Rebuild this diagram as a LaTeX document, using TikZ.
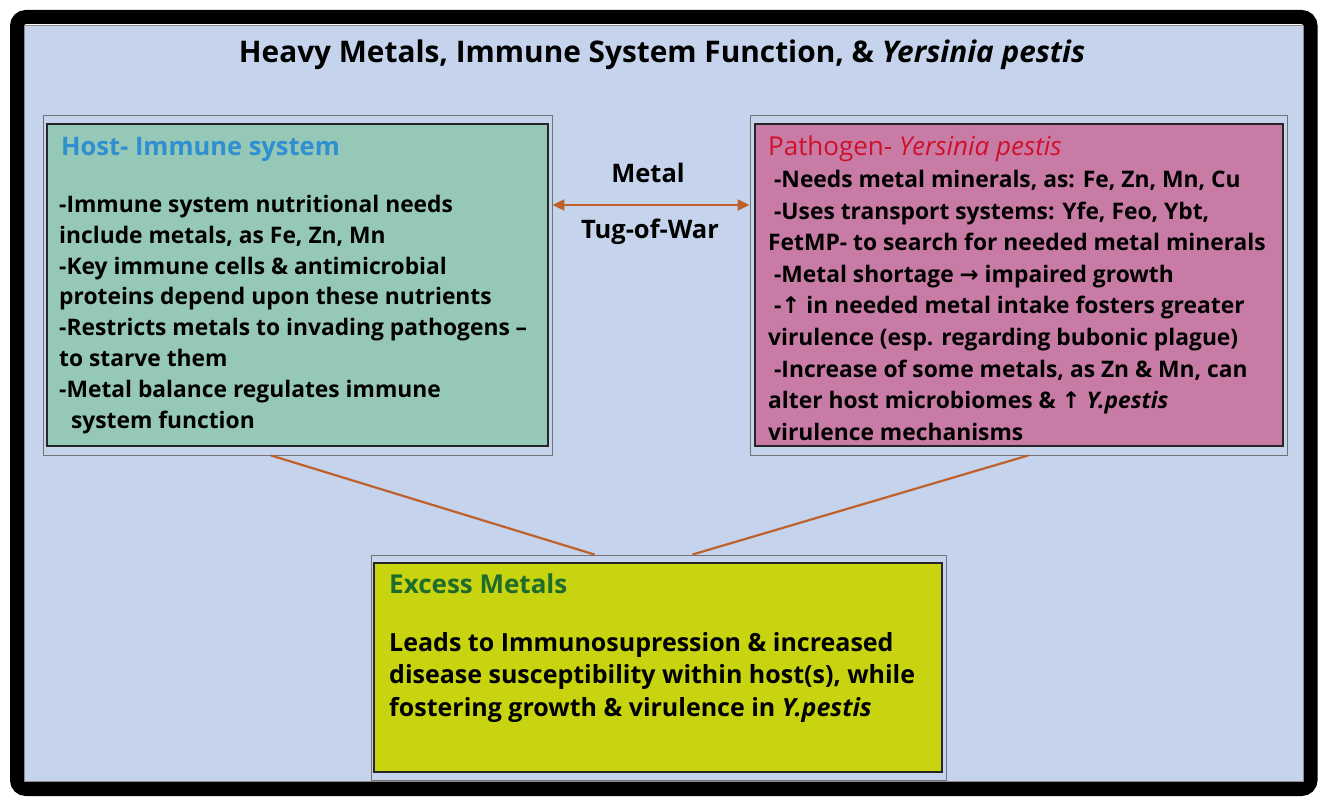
\documentclass[tikz,border=0pt]{standalone}
\usepackage{fontspec}
\setmainfont{Open Sans}
\newfontfamily\arrowfont{DejaVu Sans}
\usetikzlibrary{calc,arrows.meta}
\definecolor{panelblue}{HTML}{C5D4EC}
\definecolor{hostgreen}{HTML}{96C8B7}
\definecolor{pathpink}{HTML}{C87BA5}
\definecolor{excessyellow}{HTML}{C8D410}
\definecolor{tugorange}{HTML}{C0612B}
\definecolor{hostblue}{HTML}{2F8FD0}
\definecolor{pathred}{HTML}{D0102A}
\definecolor{excessgreen}{HTML}{1E6B2E}
\newcommand{\up}{{\arrowfont\char"2191}}
\newcommand{\rarr}{{\arrowfont\char"2192}}

\begin{document}
\begin{tikzpicture}[x=1pt,y=-1pt,
  frame/.style={draw=black!55,line width=0.9pt,inner sep=0pt},
  panel/.style={draw=black!85,line width=1.8pt,inner sep=0pt},
  head/.style={anchor=north west,inner sep=0pt,font=\fontsize{25.5}{30}\selectfont\bfseries},
  body/.style={anchor=north west,inner sep=0pt,align=left,font=\fontsize{22.8}{30.8}\selectfont\bfseries},
  tug/.style={draw=tugorange,line width=2.2pt}]
\useasboundingbox (0,0) rectangle (1327,805);
% outer frame
\draw[black,line width=14pt,rounded corners=9pt] (17,17) rectangle (1310.5,789);
\draw[fill=panelblue,draw=black!45,line width=0.9pt] (24,25) rectangle (1303,781);
\node[font=\fontsize{29.8}{34}\selectfont\bfseries](title) at (662,55){Heavy Metals, Immune System Function, \& \textit{Yersinia pestis}};
% boxes
\node[frame,minimum width=509,minimum height=340](hostframe) at (297.5,285){};
\node[panel,fill=hostgreen,minimum width=501,minimum height=322](host) at (297.5,285){};
\node[frame,minimum width=537,minimum height=340](pathframe) at (1018.5,285){};
\node[panel,fill=pathpink,minimum width=528,minimum height=322](path) at (1019,285){};
\node[frame,minimum width=575,minimum height=225](excessframe) at (658.5,667.5){};
\node[panel,fill=excessyellow,minimum width=568,minimum height=209](excess) at (658,667.5){};
% texts
\node[head,text=hostblue](hosthead) at (61,137){Host- Immune system};
\node[body](hosttext) at (59,195){-Immune system nutritional needs\\include metals, as Fe, Zn, Mn\\-Key immune cells \& antimicrobial\\proteins depend upon these nutrients\\-Restricts metals to invading pathogens --\\to starve them\\-Metal balance regulates immune\\\ \ system function};
\node[head,text=pathred,font=\fontsize{26}{30}\selectfont](pathhead) at (768,136){Pathogen- \textit{Yersinia pestis}};
\node[body,font=\fontsize{22.8}{31.6}\selectfont\bfseries](pathtext) at (768,170){\ -Needs metal minerals, as: Fe, Zn, Mn, Cu\\\ -Uses transport systems: Yfe, Feo, Ybt,\\FetMP- to search for needed metal minerals\\\ -Metal shortage \rarr\ impaired growth\\\ -\up\ in needed metal intake fosters greater\\virulence (esp. regarding bubonic plague)\\\ -Increase of some metals, as Zn \& Mn, can\\alter host microbiomes \& \up\ \textit{Y.pestis}\\virulence mechanisms};
\node[head,text=excessgreen,font=\fontsize{26}{30}\selectfont\bfseries](excesshead) at (389,574){Excess Metals};
\node[body,font=\fontsize{25}{32.5}\selectfont\bfseries](excesstext) at (389,632){Leads to Immunosupression \& increased\\disease susceptibility within host(s), while\\fostering growth \& virulence in \textit{Y.pestis}};
\node[font=\fontsize{25.5}{30}\selectfont\bfseries](metal) at (648,173){Metal};
\node[font=\fontsize{25.5}{30}\selectfont\bfseries](tugofwar) at (650,232){Tug-of-War};
% connectors
\draw[tug,{Triangle[width=11pt,length=12pt]}-{Triangle[width=11pt,length=12pt]}] ([yshift=80pt]hostframe.east) -- ([yshift=80pt]pathframe.west);
\draw[tug] ($(hostframe.south west)!0.448!(hostframe.south east)$) -- ($(excessframe.north west)!0.389!(excessframe.north east)$);
\draw[tug] ($(pathframe.south west)!0.518!(pathframe.south east)$) -- ($(excessframe.north west)!0.559!(excessframe.north east)$);
\end{tikzpicture}
\end{document}
